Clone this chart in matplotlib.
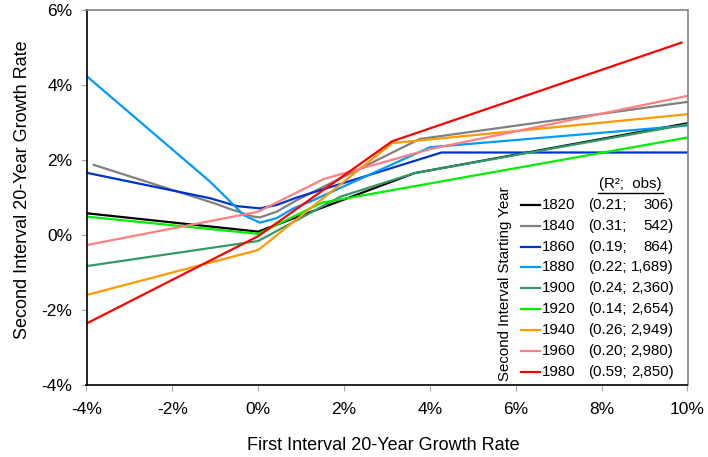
import matplotlib
matplotlib.use("Agg")
import matplotlib.pyplot as plt
from matplotlib.lines import Line2D

plt.rcParams['font.family'] = ['Liberation Sans', 'DejaVu Sans']

# data (growth rates in %)
years = ["1820", "1840", "1860", "1880", "1900", "1920", "1940", "1960", "1980"]
r2 = ["0.21", "0.31", "0.19", "0.22", "0.24", "0.14", "0.26", "0.20", "0.59"]
obs = ["306", "542", "864", "1,689", "2,360", "2,654", "2,949", "2,980", "2,850"]
colors = ["#000000", "#808080", "#0033CC", "#0099FF", "#339966",
          "#00EE00", "#FF9900", "#FF8080", "#FF0000"]

x_1820 = [-4, 0, 3.64, 10]
y_1820 = [0.58, 0.09, 1.65, 2.98]
x_1840 = [-3.83, -0.98, -0.65, -0.11, 0.04, 0.43, 0.9, 1.21, 3.76, 10]
y_1840 = [1.87, 0.83, 0.69, 0.49, 0.47, 0.62, 0.93, 1.11, 2.56, 3.55]
x_1860 = [-4, -1.12, -0.5, 0.04, 0.43, 0.9, 1.21, 4.27, 10]
y_1860 = [1.66, 0.98, 0.77, 0.71, 0.8, 1.0, 1.11, 2.2, 2.2]
x_1880 = [-4, -1.12, -0.73, -0.34, 0.04, 0.43, 0.82, 1.21, 4.0, 10]
y_1880 = [4.24, 1.42, 0.98, 0.53, 0.33, 0.45, 0.71, 0.89, 2.34, 2.92]
x_1900 = [-4, 0, 1.91, 3.64, 10]
y_1900 = [-0.83, -0.16, 1.02, 1.65, 2.95]
x_1920 = [-4, 0, 1.48, 10]
y_1920 = [0.49, 0.03, 0.86, 2.6]
x_1940 = [-4, 0, 3.12, 10]
y_1940 = [-1.6, -0.4, 2.45, 3.22]
x_1960 = [-4, 0, 1.52, 4.0, 10]
y_1960 = [-0.27, 0.62, 1.49, 2.29, 3.71]
x_1980 = [-4, 0, 3.12, 9.86]
y_1980 = [-2.36, -0.03, 2.5, 5.13]

xs = [x_1820, x_1840, x_1860, x_1880, x_1900, x_1920, x_1940, x_1960, x_1980]
ys = [y_1820, y_1840, y_1860, y_1880, y_1900, y_1920, y_1940, y_1960, y_1980]

W, H = 708, 457
fig = plt.figure(figsize=(W / 100, H / 100), dpi=100)
ax = fig.add_axes([86.5 / W, 1 - 385 / H, 601 / W, 375 / H])


def px(x, y):
    return x / W, 1 - y / H


for x, y, c in zip(xs, ys, colors):
    ax.plot(x, y, color=c, lw=1.6, solid_joinstyle='round')

ax.set_xlim(-4, 10)
ax.set_ylim(-4, 6)
ax.set_xticks(range(-4, 11, 2))
ax.set_yticks(range(-4, 7, 2))
ax.set_xticklabels([f"{v}%" for v in range(-4, 11, 2)])
ax.set_yticklabels([f"{v}%" for v in range(-4, 7, 2)])
ax.tick_params(axis='both', labelsize=12.5, length=4, color='#AAAAAA', width=0.8)
ax.tick_params(axis='x', pad=8)
ax.tick_params(axis='y', pad=6)
ax.spines['left'].set_color('black')
ax.spines['bottom'].set_color('black')
ax.spines['top'].set_color('#808080')
ax.spines['right'].set_color('#808080')
for s in ax.spines.values():
    s.set_linewidth(1.2)

fig.text(*px(383, 445), "First Interval 20-Year Growth Rate", fontsize=13,
         ha='center', va='center')
fig.text(*px(23, 190), "Second Interval 20-Year Growth Rate", fontsize=13,
         ha='center', va='center', rotation=90)

# legend drawn by hand
fig.text(*px(505, 284), "Second Interval Starting Year", fontsize=10.8,
         ha='center', va='center', rotation=90)
fig.text(*px(630.5, 184), "(R²;  obs)", fontsize=10.8, ha='center', va='center')
fig.add_artist(Line2D([598 / W, 663 / W], [1 - 193 / H, 1 - 193 / H],
                      color='black', lw=1))
for i, yr in enumerate(years):
    yy = 205 + i * 20.83
    fig.add_artist(Line2D([521 / W, 540 / W], [1 - yy / H, 1 - yy / H],
                          color=colors[i], lw=1.6))
    fig.text(*px(541.5, yy), yr, fontsize=10.8, ha='left', va='center')
    fig.text(*px(588, yy), f"({r2[i]};", fontsize=10.8, ha='left', va='center')
    fig.text(*px(673.5, yy), f"{obs[i]})", fontsize=10.8, ha='right', va='center')

fig.savefig("out.png", dpi=100)
